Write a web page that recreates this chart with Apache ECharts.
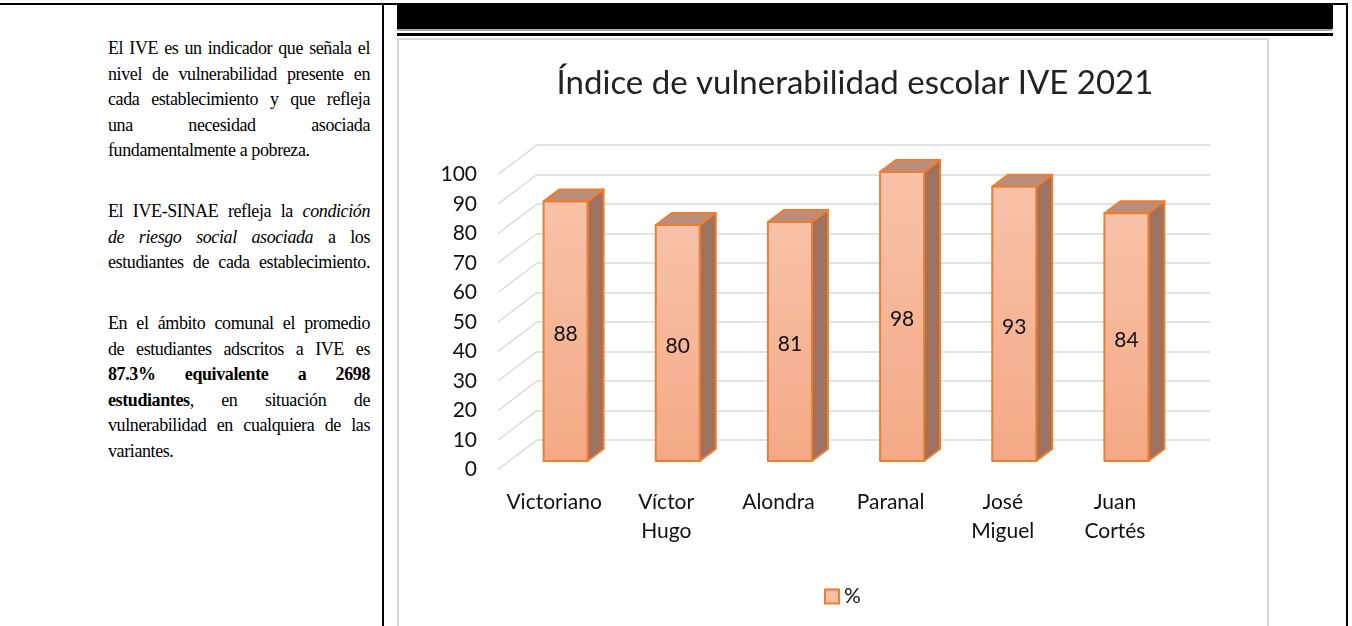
<!DOCTYPE html>
<html>
<head>
<meta charset="utf-8">
<script src="https://cdn.jsdelivr.net/npm/echarts@6/dist/echarts.min.js"></script>
<style>
  body { margin: 0; background: #fff; overflow: hidden; }
  .page { position: relative; width: 1352px; height: 626px; }
  .rule { position: absolute; background: #000; }
  .texto {
    position: absolute; left: 108px; top: 36px; width: 262px;
    font-family: 'Liberation Serif', 'Times New Roman', serif;
    font-size: 18px; letter-spacing: -0.4px; line-height: 25.5px; color: #000;
  }
  .texto .par { margin: 0 0 35.5px 0; }
  .texto .j { text-align: justify; text-align-last: justify; }
  .caja {
    position: absolute; left: 397px; top: 38px; width: 872px; height: 620px;
    border: 2px solid #d6d6d6; box-sizing: border-box; background: #fff;
  }
  #chart { position: absolute; left: 0; top: 0; width: 1352px; height: 626px; }
</style>
</head>
<body>
<div class="page">
  <div class="rule" style="left:0;top:3px;width:1348px;height:2px"></div>
  <div class="rule" style="left:382px;top:3px;width:2px;height:623px"></div>
  <div class="rule" style="left:1346px;top:3px;width:2px;height:623px"></div>
  <div class="rule" style="left:397px;top:3px;width:936px;height:26px"></div>
  <div class="rule" style="left:397px;top:29px;width:935px;height:2px;background:#a6a6a6"></div>
  <div class="rule" style="left:397px;top:33px;width:936px;height:3px"></div>
  <div class="caja"></div>

  <div class="texto">
    <div class="par">
      <div class="j">El IVE es un indicador que señala el</div>
      <div class="j">nivel de vulnerabilidad presente en</div>
      <div class="j">cada establecimiento y que refleja</div>
      <div class="j">una necesidad asociada</div>
      <div>fundamentalmente a pobreza.</div>
    </div>
    <div class="par">
      <div class="j">El IVE-SINAE refleja la <i>condición</i></div>
      <div class="j"><i>de riesgo social asociada</i> a los</div>
      <div class="j">estudiantes de cada establecimiento.</div>
    </div>
    <div class="par">
      <div class="j">En el ámbito comunal el promedio</div>
      <div class="j">de estudiantes adscritos a IVE es</div>
      <div class="j"><b>87.3% equivalente a 2698</b></div>
      <div class="j"><b>estudiantes</b>, en situación de</div>
      <div class="j">vulnerabilidad en cualquiera de las</div>
      <div>variantes.</div>
    </div>
  </div>

  <div id="chart"></div>
</div>

<script>
const chartTitle = 'Índice de vulnerabilidad escolar IVE 2021'
const schools = ['Victoriano', 'Víctor Hugo', 'Alondra', 'Paranal', 'José Miguel', 'Juan Cortés']
const iveValues = [88, 80, 81, 98, 93, 84]
const seriesName = '%'
const yTicks = [0, 10, 20, 30, 40, 50, 60, 70, 80, 90, 100]

// fake 3d: back wall, bar front plane and label plane are shifted copies
const plotH = 295
const back = { left: 537, top: 145, width: 673 }
const wallDx = 39, wallDy = 29.5     // back wall -> label plane
const barDx = 27.5, barDy = 21       // back wall -> bar front plane
const barW = 44, depthX = 16, depthY = 12

const font = 'Lato'
const textColor = '#111'

const chart = echarts.init(document.getElementById('chart'))

chart.setOption({
  animation: false,
  title: {
    text: chartTitle,
    left: 850,
    top: 62,
    textAlign: 'center',
    textStyle: { fontFamily: font, fontSize: 33, fontWeight: 'normal', color: '#222' },
  },
  legend: {
    data: [seriesName],
    left: 819,
    top: 581,
    icon: 'rect',
    itemWidth: 14,
    itemHeight: 14,
    itemGap: 6,
    itemStyle: { color: '#F8BFA5', borderColor: '#ED7D31', borderWidth: 2 },
    textStyle: { fontFamily: font, fontSize: 21, color: textColor },
  },
  grid: [
    // labels
    { left: back.left - wallDx, top: back.top + wallDy, width: back.width, height: plotH },
    // back wall
    { left: back.left, top: back.top, width: back.width, height: plotH },
    // bar fronts
    { left: back.left - barDx, top: back.top + barDy, width: back.width, height: plotH },
  ],
  xAxis: [
    {
      gridIndex: 0,
      type: 'category',
      data: schools,
      axisLine: { show: false },
      axisTick: { show: false },
      axisLabel: {
        margin: 18,
        interval: 0,
        fontFamily: font,
        fontSize: 21,
        lineHeight: 29,
        color: textColor,
        formatter: (v) => v.replace(' ', '\n'),
      },
    },
    { gridIndex: 1, type: 'category', data: schools, show: false },
    { gridIndex: 2, type: 'category', data: schools, show: false },
  ],
  yAxis: [
    {
      gridIndex: 0,
      type: 'value',
      min: 0,
      max: 100,
      interval: 10,
      axisLine: { show: false },
      axisTick: { show: false },
      splitLine: { show: false },
      axisLabel: { margin: 21, fontFamily: font, fontSize: 21, color: textColor },
    },
    {
      gridIndex: 1,
      type: 'value',
      min: 0,
      max: 100,
      interval: 10,
      axisLine: { show: false },
      axisTick: { show: false },
      axisLabel: { show: false },
      splitLine: { show: true, lineStyle: { color: '#d9d9d9', width: 1.5 } },
    },
    { gridIndex: 2, type: 'value', min: 0, max: 100, interval: 10, show: false, splitLine: { show: false } },
  ],
  series: [
    {
      // slanted part of the gridlines (side wall)
      type: 'custom',
      xAxisIndex: 1,
      yAxisIndex: 1,
      silent: true,
      data: yTicks.map((v) => [0, v]),
      renderItem: (params, api) => {
        const cs = params.coordSys
        const y = api.coord([0, api.value(1)])[1]
        return {
          type: 'line',
          shape: { x1: cs.x, y1: y, x2: cs.x - wallDx, y2: y + wallDy },
          style: { stroke: '#d9d9d9', lineWidth: 1.5 },
        }
      },
      z: 1,
    },
    {
      name: seriesName,
      type: 'custom',
      xAxisIndex: 2,
      yAxisIndex: 2,
      itemStyle: { color: '#F8BFA5', borderColor: '#ED7D31', borderWidth: 2 },
      data: iveValues.map((v, i) => [i, v]),
      renderItem: (params, api) => {
        const i = api.value(0)
        const v = api.value(1)
        const top = api.coord([i, v])
        const base = api.coord([i, 0])
        const x0 = top[0] - barW / 2
        const x1 = top[0] + barW / 2
        const edge = { stroke: '#ED7D31', lineWidth: 2, lineJoin: 'round' }
        return {
          type: 'group',
          children: [
            {
              type: 'polygon',
              shape: { points: [[x1, top[1]], [x1 + depthX, top[1] - depthY], [x1 + depthX, base[1] - depthY], [x1, base[1]]] },
              style: Object.assign({ fill: '#9E725E' }, edge),
            },
            {
              type: 'polygon',
              shape: { points: [[x0, top[1]], [x0 + depthX, top[1] - depthY], [x1 + depthX, top[1] - depthY], [x1, top[1]]] },
              style: Object.assign({ fill: '#BB8E7B' }, edge),
            },
            {
              type: 'rect',
              shape: { x: x0, y: top[1], width: barW, height: base[1] - top[1] },
              style: Object.assign({
                fill: new echarts.graphic.LinearGradient(0, 0, 0, 1, [
                  { offset: 0, color: '#F8C2A8' },
                  { offset: 1, color: '#F4A985' },
                ]),
              }, edge),
            },
            {
              type: 'text',
              style: {
                text: String(v),
                x: top[0],
                y: (top[1] + base[1]) / 2 + 3,
                align: 'center',
                verticalAlign: 'middle',
                fontFamily: font,
                fontSize: 21,
                fill: textColor,
              },
            },
          ],
        }
      },
      z: 3,
    },
  ],
})
</script>
</body>
</html>
